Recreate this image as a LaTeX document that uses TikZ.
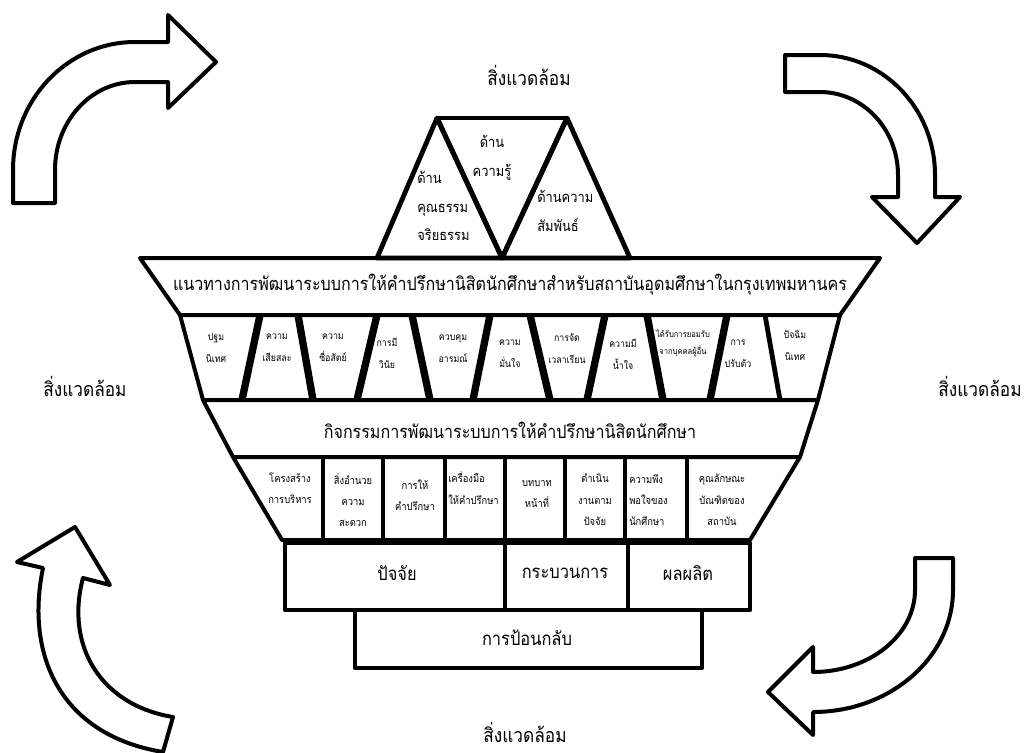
\documentclass[tikz,border=0pt]{standalone}
\usepackage{fontspec}
\newfontfamily\thai[Script=Thai,FakeStretch=0.88]{Loma}
\begin{document}
\begin{tikzpicture}[x=0.75pt,y=-0.75pt,line join=round,
  outline/.style={draw=black,line width=3pt,fill=white},
  thick outline/.style={draw=black,line width=3.6pt,fill=white},
  arrowshape/.style={draw=black,line width=3pt,fill=white,line join=round},
  divider/.style={draw=black,line width=5.5pt},
  vdivider/.style={draw=black,line width=3.6pt},
  bigtxt/.style={font=\thai\fontsize{13.7}{16}\selectfont,inner sep=0pt},
  boxtxt/.style={font=\thai\fontsize{14}{16}\selectfont,inner sep=0pt},
  labeltxt/.style={font=\thai\fontsize{14.7}{17}\selectfont,inner sep=0pt},
  tritxt/.style={font=\thai\fontsize{11}{21.5}\selectfont,inner sep=0pt},
  rowtxt/.style={font=\thai\fontsize{7.5}{16.5}\selectfont,inner sep=0pt,align=center},
  celltxt/.style={font=\thai\fontsize{8}{16}\selectfont,inner sep=0pt,align=center},
  tinytxt/.style={font=\thai\fontsize{6.5}{13}\selectfont,inner sep=0pt,align=center}]
\useasboundingbox (0,0) rectangle (1028,753);

% ---- curved arrows around the model ----
\draw[arrowshape] (13,203) -- (13,170)
  .. controls (13,99.3) and (67.6,42) .. (135,42) -- (168,42) -- (168,15)
  -- (216,62) -- (168,108) -- (168,82) -- (135,82)
  .. controls (90.8,82) and (55,121.4) .. (55,170) -- (55,203) -- cycle;
\draw[arrowshape] (785,55) -- (820,55)
  .. controls (883.5,55) and (935,108.8) .. (935,175) -- (935,197) -- (960,197)
  -- (917,243) -- (872,197) -- (898,197) -- (898,175)
  .. controls (898,129.2) and (863,92) .. (820,92) -- (785,92) -- cycle;
\draw[arrowshape] (915,558) -- (953,558) -- (953,590)
  .. controls (953,657.3) and (890.3,712) .. (813,712) -- (813,735)
  -- (768,692) -- (813,647) -- (813,672)
  .. controls (869.3,672) and (915,635.3) .. (915,590) -- cycle;
\draw[arrowshape] (43,568)
  .. controls (25,655) and (60,735) .. (163,752) -- (173,717)
  .. controls (100,705) and (65,645) .. (83,578) -- (110,585)
  -- (75,527) -- (17,562) -- cycle;

% ---- environment labels ----
\node[labeltxt] (envtop) at (529,75) {สิ่งแวดล้อม};
\node[labeltxt] (envleft) at (85,386) {สิ่งแวดล้อม};
\node[labeltxt] (envright) at (980,386) {สิ่งแวดล้อม};
\node[labeltxt] (envbottom) at (525,732) {สิ่งแวดล้อม};

% ---- guideline band ----
\draw[outline] (140,258) -- (880,258) -- (840,315) -- (180,315) -- cycle;
\node[bigtxt] (guide) at (510,285) {แนวทางการพัฒนาระบบการให้คำปรึกษานิสิตนักศึกษาสำหรับสถาบันอุดมศึกษาในกรุงเทพมหานคร};

% ---- three triangles on top ----
\draw[thick outline] (437,118) -- (377,258) -- (502,258) -- cycle;
\draw[thick outline] (567,118) -- (502,258) -- (630,258) -- cycle;
\draw[draw=black,line width=3pt] (437,118) -- (567,118);
\draw[draw=black,line width=3.6pt] (437,118) -- (502,258) -- (567,118);
\node[tritxt,align=left,anchor=west] (moral) at (417,206) {ด้าน\\คุณธรรม\\จริยธรรม};
\node[tritxt,align=center] (knowledge) at (492,158) {ด้าน\\ความรู้};
\node[tritxt,align=left,anchor=west] (relation) at (537,211) {ด้านความ\\สัมพันธ์};

% ---- row of qualities ----
\draw[outline] (180,315) -- (840,315) -- (818,400) -- (203,400) -- cycle;
\foreach \t/\b in {260/242,298/313,377/357,412/430,490/473,530/550,605/587,647/663,727/710}
  \draw[divider] (\t,315) -- (\b,400);
\draw[draw=black,line width=3.6pt] (765,315) -- (780,400);
\node[rowtxt] (q1) at (216,348) {ปฐม\\นิเทศ};
\node[rowtxt] (q2) at (277,348) {ความ\\เสียสละ};
\node[rowtxt] (q3) at (333,348) {ความ\\ซื่อสัตย์};
\node[rowtxt] (q4) at (387,353) {การมี\\วินัย};
\node[rowtxt] (q5) at (453,349) {ควบคุม\\อารมณ์};
\node[rowtxt] (q6) at (510,354) {ความ\\มั่นใจ};
\node[rowtxt] (q7) at (567,349) {การจัด\\เวลาเรียน};
\node[rowtxt] (q8) at (623,354) {ความมี\\น้ำใจ};
\node[tinytxt] (q9) at (683,343) {ได้รับการยอมรับ\\จากบุคคลผู้อื่น};
\node[rowtxt] (q10) at (738,354) {การ\\ปรับตัว};
\node[rowtxt] (q11) at (795,346) {ปัจฉิม\\นิเทศ};

% ---- activity band ----
\draw[outline] (203,400) -- (818,400) -- (800,457) -- (233,457) -- cycle;
\node[bigtxt] (activity) at (510,430) {กิจกรรมการพัฒนาระบบการให้คำปรึกษานิสิตนักศึกษา};

% ---- row of components ----
\draw[outline] (233,457) -- (800,457) -- (750,540) -- (282,540) -- cycle;
\foreach \x in {323,383,445,505,565,625,687}
  \draw[vdivider] (\x,457) -- (\x,540);
\node[celltxt] (c1) at (290,488) {โครงสร้าง\\การบริหาร};
\node[celltxt] (c2) at (353,500) {สิ่งอำนวย\\ความ\\สะดวก};
\node[celltxt] (c3) at (415,495) {การให้\\คำปรึกษา};
\node[celltxt,align=left,anchor=west] (c4) at (448,488) {เครื่องมือ\\ให้คำปรึกษา};
\node[celltxt] (c5) at (537,494) {บทบาท\\หน้าที่};
\node[celltxt] (c6) at (595,500) {ดำเนิน\\งานตาม\\ปัจจัย};
\node[celltxt,align=left,anchor=west] (c7) at (629,500) {ความพึง\\พอใจของ\\นักศึกษา};
\node[celltxt] (c8) at (722,500) {คุณลักษณะ\\บัณฑิตของ\\สถาบัน};

% ---- input / process / output ----
\draw[thick outline] (285,543) rectangle (750,610);
\draw[vdivider] (505,543) -- (505,610);
\draw[vdivider] (628,543) -- (628,610);
\node[boxtxt] (input) at (397,573) {ปัจจัย};
\node[boxtxt] (process) at (565,573) {กระบวนการ};
\node[boxtxt] (output) at (688,573) {ผลผลิต};

% ---- feedback ----
\draw[thick outline] (355,610) rectangle (702,668);
\node[boxtxt] (feedback) at (527,638) {การป้อนกลับ};
\end{tikzpicture}
\end{document}
